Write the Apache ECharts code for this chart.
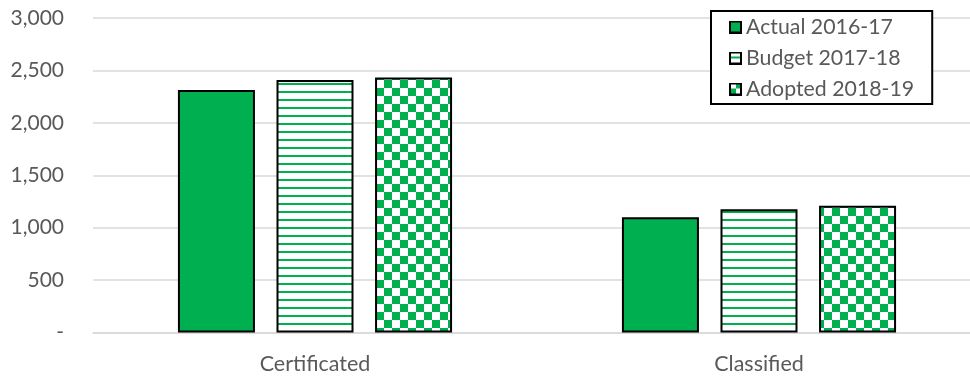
<!DOCTYPE html>
<html>
<head>
<meta charset="utf-8">
<style>
  html, body { margin: 0; padding: 0; background: #fff; }
  #chart { width: 970px; height: 376px; }
</style>
<script src="https://cdn.jsdelivr.net/npm/echarts@6/dist/echarts.min.js"></script>
</head>
<body>
<div id="chart"></div>
<script>
// Staffing by employee group
const categories = ['Certificated', 'Classified'];
const seriesNames = ['Actual 2016-17', 'Budget 2017-18', 'Adopted 2018-19'];
const actual = [2313, 1101];
const budget = [2408, 1177];
const adopted = [2433, 1209];
const yTicks = { min: 0, max: 3000, interval: 500 };

const GREEN = '#00b050';
const FONT = 'Lato';
const TEXT = '#595959';

function makeCanvas(w, h) {
  const c = document.createElement('canvas');
  c.width = w; c.height = h;
  return c;
}

// horizontal green stripes on white
function stripeTile() {
  const c = makeCanvas(8, 8);
  const g = c.getContext('2d');
  g.fillStyle = '#fff'; g.fillRect(0, 0, 8, 8);
  g.fillStyle = GREEN; g.fillRect(0, 3, 8, 2);
  return c;
}

// green/white checkerboard
function checkerTile() {
  const c = makeCanvas(16, 16);
  const g = c.getContext('2d');
  g.fillStyle = '#fff'; g.fillRect(0, 0, 16, 16);
  g.fillStyle = GREEN;
  g.fillRect(0, 0, 8, 8);
  g.fillRect(8, 8, 8, 8);
  return c;
}

// small legend swatches with a black frame
function swatch(kind) {
  const s = 13;
  const c = makeCanvas(s, s);
  const g = c.getContext('2d');
  g.fillStyle = '#fff'; g.fillRect(0, 0, s, s);
  g.fillStyle = GREEN;
  if (kind === 'solid') {
    g.fillRect(0, 0, s, s);
  } else if (kind === 'stripe') {
    g.fillRect(0, 5, s, 2);
  } else {
    g.fillRect(2, 6, 5, 5);
    g.fillRect(7, 2, 4, 4);
  }
  g.strokeStyle = '#000'; g.lineWidth = 2;
  g.strokeRect(1, 1, s - 2, s - 2);
  return 'image://' + c.toDataURL();
}

const fills = [
  GREEN,
  { image: stripeTile(), repeat: 'repeat' },
  { image: checkerTile(), repeat: 'repeat' }
];
const icons = [swatch('solid'), swatch('stripe'), swatch('checker')];
const values = [actual, budget, adopted];

const chart = echarts.init(document.getElementById('chart'), null, { renderer: 'canvas' });

chart.setOption({
  animation: false,
  backgroundColor: '#fff',
  textStyle: { fontFamily: FONT },
  grid: {
    left: 93, top: 18, width: 888, height: 314.6,
    containLabel: false,
    outerBoundsMode: 'none'
  },
  legend: {
    orient: 'vertical',
    left: 711, top: 11,
    padding: [4, 18, 3, 18],
    itemWidth: 13, itemHeight: 13,
    itemGap: 7,
    borderColor: '#000', borderWidth: 2,
    backgroundColor: '#fff',
    textStyle: { fontFamily: FONT, fontSize: 21.3, color: TEXT, lineHeight: 24, padding: [0, 0, 0, -1] },
    data: seriesNames.map((n, i) => ({ name: n, icon: icons[i] }))
  },
  xAxis: {
    type: 'category',
    data: categories,
    axisLine: { lineStyle: { color: '#d9d9d9', width: 1.5 } },
    axisTick: { show: false },
    axisLabel: { fontFamily: FONT, fontSize: 21.5, color: TEXT, margin: 20 }
  },
  yAxis: {
    type: 'value',
    min: yTicks.min, max: yTicks.max, interval: yTicks.interval,
    axisLine: { show: false },
    axisTick: { show: false },
    splitLine: { lineStyle: { color: '#d9d9d9', width: 1.5 } },
    axisLabel: {
      fontFamily: FONT, fontSize: 21, color: TEXT, margin: 29,
      formatter: v => v === 0 ? '-' : v.toLocaleString('en-US')
    }
  },
  series: seriesNames.map((name, i) => ({
    name,
    type: 'bar',
    data: values[i],
    barWidth: 77,
    barGap: '28%',
    itemStyle: { color: fills[i], borderColor: '#000', borderWidth: 2 },
    emphasis: { disabled: true }
  }))
});
</script>
</body>
</html>
